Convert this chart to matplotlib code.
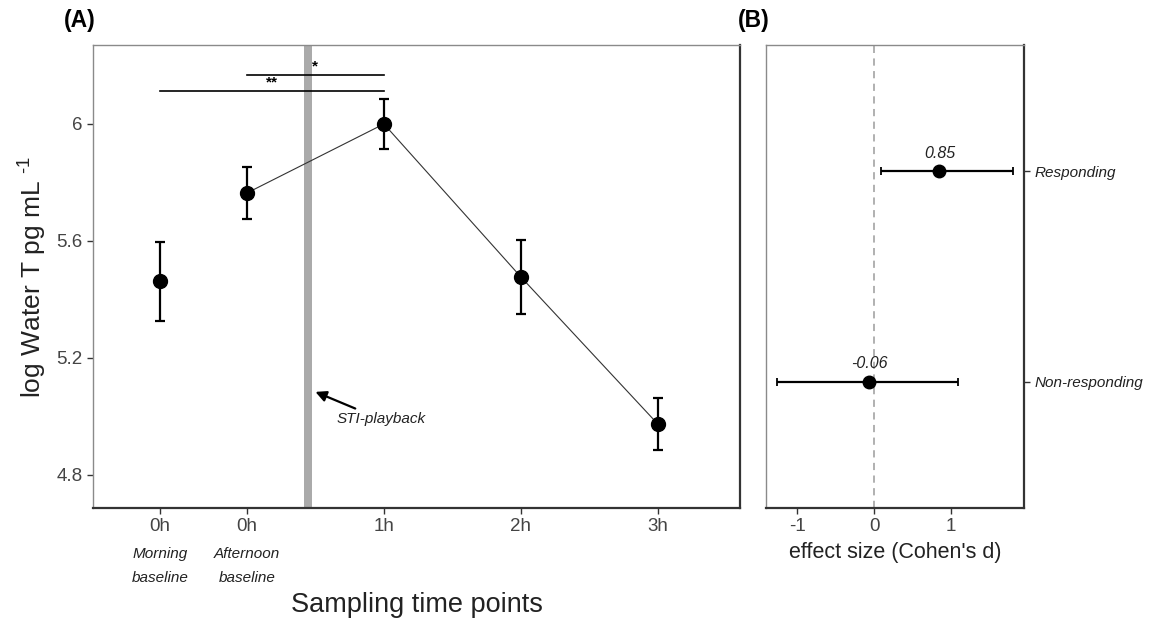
import matplotlib
matplotlib.use("Agg")
import matplotlib.pyplot as plt
from matplotlib.transforms import blended_transform_factory

plt.rcParams['font.family'] = ['Liberation Sans', 'DejaVu Sans']
plt.rcParams['mathtext.fontset'] = 'custom'
plt.rcParams['mathtext.rm'] = 'Liberation Sans'
plt.rcParams['mathtext.it'] = 'Liberation Sans:italic'

# ---- Panel A data ----
time_labels = ["0h", "0h", "1h", "2h", "3h"]
time_sub = ["Morning\nbaseline", "Afternoon\nbaseline", "", "", ""]
time_pos = [-0.635, 0.0, 1.0, 2.0, 3.0]
log_t_mean = [5.463, 5.764, 6.000, 5.477, 4.974]
log_t_err = [0.135, 0.088, 0.085, 0.127, 0.089]
playback_pos = 0.445
sig_pairs = [(0.0, 1.0, 6.168, "*"), (-0.635, 1.0, 6.113, "**")]

# ---- Panel B data ----
groups = ["Non-responding", "Responding"]
cohen_d = [-0.06, 0.85]
ci_low = [-1.26, 0.09]
ci_high = [1.09, 1.805]

W, H = 1150, 623
fig = plt.figure(figsize=(W / 100, H / 100), dpi=100)

def style_axes(ax):
    for s in ['left', 'top']:
        ax.spines[s].set_color('#8a8a8a')
        ax.spines[s].set_linewidth(1.0)
    for s in ['right', 'bottom']:
        ax.spines[s].set_color('#333333')
        ax.spines[s].set_linewidth(1.6)
    ax.tick_params(colors='#333333', labelcolor='#444444', length=4, width=1.0)

# ---------------- Panel A ----------------
axA = fig.add_axes([93 / W, 1 - 508 / H, (740 - 93) / W, (508 - 45) / H])
style_axes(axA)
axA.set_xlim(-1.124, 3.6)
axA.set_ylim(4.687, 6.27)

axA.axvspan(playback_pos - 0.03, playback_pos + 0.03, color='#aaaaaa', lw=0, zorder=1)

axA.plot(time_pos[1:], log_t_mean[1:], color='#333333', lw=0.8, zorder=2)
axA.errorbar(time_pos, log_t_mean, yerr=log_t_err, fmt='o', color='black',
             ms=10, elinewidth=1.6, capsize=3.5, capthick=1.6, zorder=3)

for x0, x1, y, lab in sig_pairs:
    axA.plot([x0, x1], [y, y], color='black', lw=1.2, zorder=2)
    axA.text((x0 + x1) / 2, y + 0.006, lab, ha='center', va='bottom',
             fontsize=11, fontweight='bold')

axA.annotate("STI-playback", xy=(0.50, 5.084), xytext=(0.655, 4.99),
             fontsize=11, style='italic', color='#222222', ha='left', va='center',
             arrowprops=dict(arrowstyle='-|>', color='black', lw=1.6,
                             mutation_scale=16, shrinkA=2, shrinkB=0))

axA.set_xticks(time_pos)
axA.set_xticklabels(time_labels, fontsize=13.5)
axA.set_yticks([4.8, 5.2, 5.6, 6.0])
axA.set_yticklabels(["4.8", "5.2", "5.6", "6"], fontsize=13.5)
trans = blended_transform_factory(axA.transData, fig.transFigure)
for x, sub in zip(time_pos, time_sub):
    if sub:
        fig.text(x, 1 - 566 / H, sub, transform=trans, ha='center', va='center',
                 fontsize=11, style='italic', color='#222222', linespacing=1.85)

axA.set_ylabel(r"log Water T pg mL $^{\text{-1}}$", fontsize=19, color='#222222', labelpad=5)
fig.text((93 + 740) / 2 / W, 1 - 605 / H, "Sampling time points", ha='center',
         va='center', fontsize=19.5, color='#222222')
fig.text(64 / W, 1 - 20 / H, "(A)", fontsize=16.5, fontweight='bold', ha='left', va='center')

# ---------------- Panel B ----------------
axB = fig.add_axes([766 / W, 1 - 508 / H, (1024 - 766) / W, (508 - 45) / H])
style_axes(axB)
ypos = list(range(1, len(groups) + 1))
axB.set_xlim(-1.403, 1.948)
axB.set_ylim(0.4, 2.6)
axB.axvline(0, color='#aaaaaa', ls=(0, (4, 3)), lw=1.3, zorder=1)
xerr = [[d - l for d, l in zip(cohen_d, ci_low)], [h - d for d, h in zip(cohen_d, ci_high)]]
axB.errorbar(cohen_d, ypos, xerr=xerr, fmt='o', color='black', ms=9,
             elinewidth=1.6, capsize=3, capthick=1.3, zorder=3)
for d, y in zip(cohen_d, ypos):
    axB.text(d, y + 0.05, f"{d:.2f}", ha='center', va='bottom', fontsize=11.5,
             style='italic', color='#222222')
axB.set_xticks([-1, 0, 1])
axB.set_xticklabels(["-1", "0", "1"], fontsize=13.5)
axB.yaxis.tick_right()
axB.set_yticks(ypos)
axB.set_yticklabels(groups, fontsize=11, style='italic', color='#222222')
axB.set_xlabel("effect size (Cohen's d)", fontsize=15.5, color='#222222', labelpad=5)
fig.text(738 / W, 1 - 20 / H, "(B)", fontsize=16.5, fontweight='bold', ha='left', va='center')

fig.savefig("out.png", dpi=100)
